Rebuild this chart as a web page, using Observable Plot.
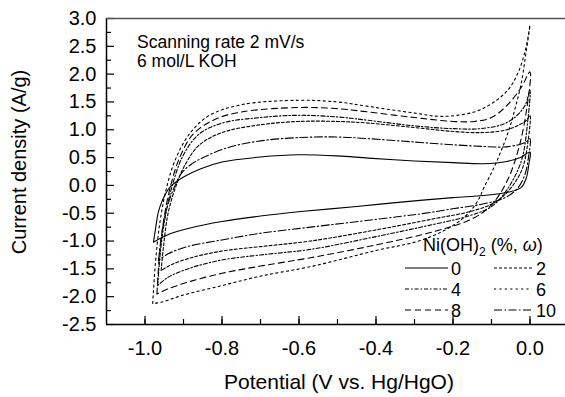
<!DOCTYPE html>
<html>
<head>
<meta charset="utf-8">
<script src="https://cdn.jsdelivr.net/npm/d3@7"></script>
<script src="https://cdn.jsdelivr.net/npm/@observablehq/plot@0.6"></script>
<style>
  html, body { margin: 0; padding: 0; background: #fff; }
  #chart { width: 565px; height: 397px; }
</style>
</head>
<body>
<div id="chart"></div>
<script>
// ---- Data (Potential V vs. Hg/HgO, Current density A/g) ----
const seriesNames = ["0", "2", "4", "6", "8", "10"];

const ni0 = [[-0.978,-1.02],[-0.972,-0.75],[-0.966,-0.5],[-0.955,-0.27],[-0.935,-0.03],[-0.9,0.15],[-0.855,0.30],[-0.8,0.42],[-0.7,0.51],[-0.6,0.55],[-0.5,0.53],[-0.42,0.49],[-0.3,0.44],[-0.2,0.41],[-0.12,0.39],[-0.06,0.43],[-0.025,0.50],[0.0,0.60],
  [-0.003,0.38],[-0.009,0.15],[-0.022,-0.03],[-0.055,-0.12],[-0.12,-0.18],[-0.2,-0.22],[-0.335,-0.30],[-0.45,-0.38],[-0.595,-0.47],[-0.7,-0.55],[-0.8,-0.65],[-0.88,-0.76],[-0.935,-0.87],[-0.978,-1.02]];

const ni2 = [[-0.958,-1.53],[-0.952,-1.1],[-0.94,-0.5],[-0.92,-0.02],[-0.895,0.38],[-0.86,0.72],[-0.8,0.95],[-0.7,1.09],[-0.6,1.15],[-0.5,1.15],[-0.42,1.12],[-0.3,1.04],[-0.2,0.97],[-0.12,0.95],[-0.06,1.0],[-0.025,1.1],[-0.008,1.18],[0.0,1.26],
  [-0.005,0.8],[-0.02,0.3],[-0.05,-0.05],[-0.09,-0.3],[-0.15,-0.46],[-0.25,-0.6],[-0.4,-0.8],[-0.57,-1.0],[-0.7,-1.1],[-0.8,-1.18],[-0.88,-1.3],[-0.93,-1.42],[-0.958,-1.53]];

const ni4 = [[-0.967,-1.8],[-0.96,-1.2],[-0.947,-0.55],[-0.927,0.05],[-0.9,0.55],[-0.86,0.92],[-0.8,1.12],[-0.7,1.22],[-0.6,1.26],[-0.5,1.23],[-0.42,1.17],[-0.3,1.07],[-0.2,1.02],[-0.13,1.02],[-0.07,1.1],[-0.035,1.25],[-0.012,1.45],[0.0,1.71],
  [-0.006,1.15],[-0.022,0.45],[-0.06,-0.08],[-0.1,-0.38],[-0.16,-0.55],[-0.25,-0.7],[-0.4,-0.92],[-0.57,-1.15],[-0.7,-1.25],[-0.8,-1.34],[-0.88,-1.48],[-0.94,-1.65],[-0.967,-1.8]];

const ni6 = [[-0.98,-2.12],[-0.973,-1.4],[-0.962,-0.7],[-0.946,-0.1],[-0.922,0.45],[-0.885,0.92],[-0.835,1.25],[-0.75,1.45],[-0.6,1.53],[-0.5,1.50],[-0.42,1.42],[-0.3,1.30],[-0.23,1.24],[-0.145,1.32],[-0.1,1.47],[-0.058,1.71],[-0.032,2.01],[-0.012,2.43],[0.0,2.88],
  [-0.01,2.4],[-0.023,1.83],[-0.04,1.35],[-0.058,0.93],[-0.093,0.33],[-0.119,-0.03],[-0.135,-0.27],[-0.16,-0.5],[-0.2,-0.72],[-0.28,-0.98],[-0.4,-1.17],[-0.57,-1.46],[-0.7,-1.63],[-0.8,-1.8],[-0.9,-1.97],[-0.958,-2.1],[-0.98,-2.12]];

const ni8 = [[-0.969,-1.95],[-0.963,-1.3],[-0.952,-0.65],[-0.935,-0.05],[-0.91,0.5],[-0.875,0.92],[-0.82,1.18],[-0.75,1.32],[-0.6,1.40],[-0.5,1.38],[-0.42,1.32],[-0.3,1.22],[-0.2,1.15],[-0.145,1.15],[-0.1,1.22],[-0.058,1.45],[-0.023,1.76],[0.0,2.04],
  [-0.008,1.4],[-0.028,0.7],[-0.058,0.1],[-0.1,-0.35],[-0.15,-0.6],[-0.25,-0.83],[-0.4,-1.07],[-0.57,-1.30],[-0.7,-1.45],[-0.8,-1.58],[-0.88,-1.72],[-0.94,-1.86],[-0.969,-1.95]];

const ni10 = [[-0.965,-1.35],[-0.958,-0.95],[-0.945,-0.45],[-0.925,-0.05],[-0.905,0.22],[-0.88,0.38],[-0.846,0.51],[-0.785,0.68],[-0.7,0.80],[-0.6,0.86],[-0.5,0.87],[-0.42,0.84],[-0.3,0.78],[-0.2,0.73],[-0.12,0.70],[-0.07,0.69],[-0.03,0.73],[-0.01,0.78],[0.0,0.84],
  [-0.004,0.5],[-0.013,0.2],[-0.032,-0.05],[-0.065,-0.22],[-0.12,-0.33],[-0.2,-0.42],[-0.283,-0.51],[-0.4,-0.61],[-0.57,-0.75],[-0.7,-0.86],[-0.8,-0.98],[-0.89,-1.1],[-0.94,-1.23],[-0.965,-1.35]];

const xTicks = [-1.0, -0.8, -0.6, -0.4, -0.2, 0.0];
const xMinorTicks = [-1.0, -0.9, -0.8, -0.7, -0.6, -0.5, -0.4, -0.3, -0.2, -0.1, 0.0];
const yTicks = [-2.5, -2.0, -1.5, -1.0, -0.5, 0.0, 0.5, 1.0, 1.5, 2.0, 2.5, 3.0];
const yMinorTicks = [-2.25, -1.75, -1.25, -0.75, -0.25, 0.25, 0.75, 1.25, 1.75, 2.25, 2.75];

// ---- Styles ----
const loops = [ni0, ni2, ni4, ni6, ni8, ni10];
const dashes = [null, "3,2", "4,2,1.5,2", "2.2,3.2", "6,4", "8,2.5,1.5,2.5"];
const FONT = "'Liberation Sans', Arial, Helvetica, sans-serif";

const lineMarks = loops.map((data, k) => Plot.line(data, {
  x: d => d[0], y: d => d[1],
  curve: "catmull-rom",
  stroke: "#000",
  strokeWidth: 1.1,
  strokeDasharray: dashes[k]
}));

const fmt = d => (Math.abs(d) < 1e-9 ? 0 : d).toFixed(1);

const chart = Plot.plot({
  width: 565,
  height: 397,
  marginLeft: 106,
  marginRight: 0,
  marginTop: 18,
  marginBottom: 73,
  style: { fontFamily: FONT, background: "#fff", color: "#000", overflow: "visible" },
  x: { domain: [-1.1, 0.1], range: [106, 568], label: null },
  y: { domain: [-2.5, 3.0], range: [324, 18], label: null },
  marks: [
    ...lineMarks,
    Plot.axisX(xTicks, { tickSize: -8, tickPadding: 24, tickFormat: fmt, fontSize: 20, label: null, strokeWidth: 1.2 }),
    Plot.axisX(xMinorTicks, { tickSize: -5, tickFormat: () => "", label: null, strokeWidth: 1.2 }),
    Plot.axisY(yTicks, { tickSize: -8, tickPadding: 18, tickFormat: fmt, fontSize: 20, label: null, strokeWidth: 1.2 }),
    Plot.axisY(yMinorTicks, { tickSize: -5, tickFormat: () => "", label: null, strokeWidth: 1.2 }),
    Plot.ruleX([-1.1], { stroke: "#000", strokeWidth: 1.5 }),
    Plot.ruleY([-2.5], { stroke: "#000", strokeWidth: 1.5 }),
    Plot.ruleY([3.0], { stroke: "#555", strokeWidth: 1.3 })
  ]
});

document.getElementById("chart").appendChild(chart);

// ---- Annotations, axis titles and legend ----
const svg = d3.select(chart);
const g = svg.append("g").attr("font-family", FONT).attr("fill", "#000").attr("text-anchor", "start");

g.append("text").attr("x", 137).attr("y", 47.5).attr("font-size", 17.5).attr("text-anchor", "start").text("Scanning rate 2 mV/s");
g.append("text").attr("x", 137).attr("y", 67).attr("font-size", 17.5).attr("text-anchor", "start").text("6 mol/L KOH");

g.append("text").attr("x", 339).attr("y", 389).attr("font-size", 21)
  .attr("text-anchor", "middle").text("Potential (V vs. Hg/HgO)");
g.append("text").attr("transform", "translate(26,162) rotate(-90)").attr("font-size", 20)
  .attr("text-anchor", "middle").text("Current density (A/g)");

// legend title
const title = g.append("text").attr("x", 423).attr("y", 251).attr("font-size", 18).attr("text-anchor", "start");
title.append("tspan").text("Ni(OH)");
title.append("tspan").attr("font-size", 12).attr("dy", 5).text("2");
title.append("tspan").attr("dy", -5).text(" (%, ");
title.append("tspan").attr("font-style", "italic").text("ω");
title.append("tspan").text(")");

// legend entries (order: 0,2 / 4,6 / 8,10)
const rowsY = [268, 289, 310];
const cols = [{ x1: 405, x2: 448, tx: 451 }, { x1: 494, x2: 532, tx: 536 }];
seriesNames.forEach((name, k) => {
  const row = Math.floor(k / 2), col = k % 2;
  const c = cols[col], y = rowsY[row];
  g.append("line").attr("x1", c.x1).attr("x2", c.x2).attr("y1", y).attr("y2", y)
    .attr("stroke", "#000").attr("stroke-width", 1.1)
    .attr("stroke-dasharray", dashes[k]);
  g.append("text").attr("x", c.tx).attr("y", y + 6.5).attr("font-size", 18)
    .attr("text-anchor", "start").text(name);
});
</script>
</body>
</html>
